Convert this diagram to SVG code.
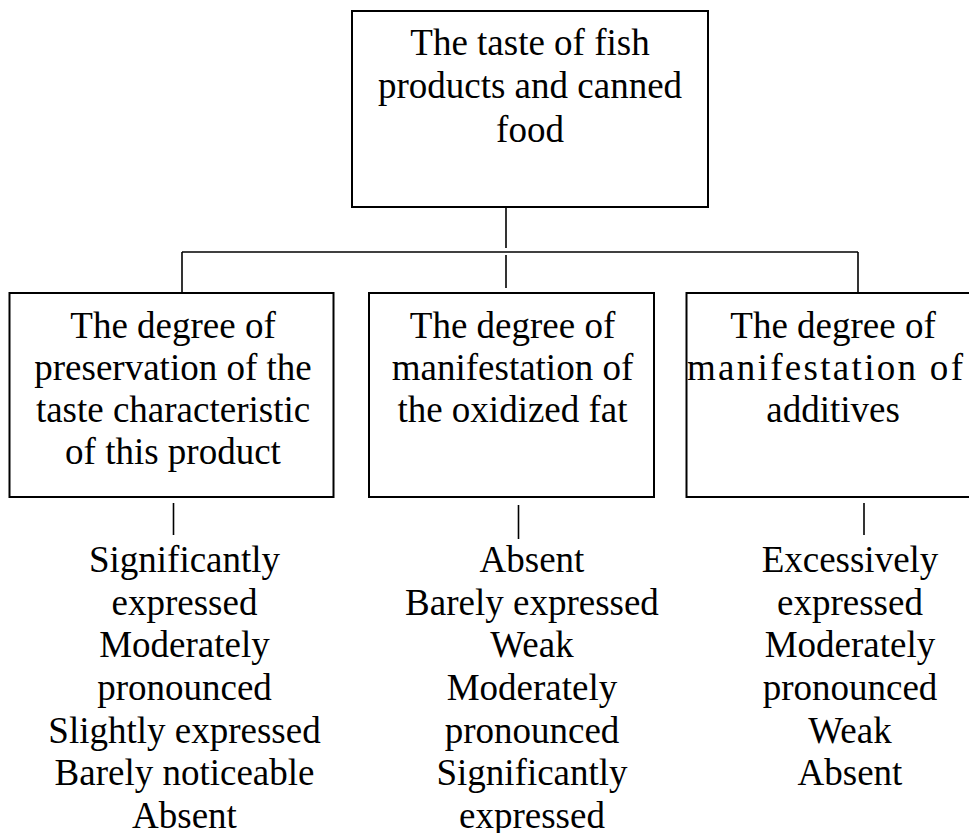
<svg xmlns="http://www.w3.org/2000/svg" width="969" height="833" viewBox="0 0 969 833">
  <style>
    .box { fill: #ffffff; stroke: #000000; stroke-width: 2; }
    .link { stroke: #000000; stroke-width: 1.6; fill: none; }
    text { font-family: "Liberation Serif", "Times New Roman", serif; font-size: 37px; fill: #000000; text-anchor: middle; }
  </style>
  <rect width="969" height="833" fill="#ffffff"/>

  <!-- tree connectors -->
  <g id="connectors">
    <line class="link" x1="506" y1="207" x2="506" y2="248"/>
    <line class="link" x1="182" y1="252" x2="858" y2="252"/>
    <line class="link" x1="506" y1="255" x2="506" y2="288"/>
    <line class="link" x1="182" y1="252" x2="182" y2="293"/>
    <line class="link" x1="858" y1="252" x2="858" y2="293"/>
    <line class="link" x1="173.5" y1="503" x2="173.5" y2="535"/>
    <line class="link" x1="518.5" y1="505" x2="518.5" y2="539"/>
    <line class="link" x1="864" y1="503" x2="864" y2="535"/>
  </g>

  <!-- root -->
  <g id="root">
    <rect class="box" x="352" y="11" width="356" height="196"/>
    <text x="530" y="55">The taste of fish</text>
    <text x="530" y="98">products and canned</text>
    <text x="530" y="142">food</text>
  </g>

  <!-- criterion boxes -->
  <g id="preservation">
    <rect class="box" x="9.5" y="293" width="324" height="204"/>
    <text x="173" y="338">The degree of</text>
    <text x="173" y="380">preservation of the</text>
    <text x="173" y="422">taste characteristic</text>
    <text x="173" y="464">of this product</text>
  </g>

  <g id="oxidized-fat">
    <rect class="box" x="369" y="293" width="285" height="204"/>
    <text x="512.5" y="338">The degree of</text>
    <text x="512.5" y="380">manifestation of</text>
    <text x="512.5" y="422">the oxidized fat</text>
  </g>

  <g id="additives">
    <rect class="box" x="686.5" y="293" width="292" height="204"/>
    <text x="833" y="338">The degree of</text>
    <text x="687" y="380" style="text-anchor:start" textLength="276" lengthAdjust="spacing">manifestation of</text>
    <text x="833" y="422">additives</text>
  </g>

  <!-- grade lists -->
  <g id="preservation-grades">
    <text x="184.5" y="572">Significantly</text>
    <text x="184.5" y="614.7">expressed</text>
    <text x="184.5" y="657.3">Moderately</text>
    <text x="184.5" y="700">pronounced</text>
    <text x="184.5" y="742.7">Slightly expressed</text>
    <text x="184.5" y="785.3">Barely noticeable</text>
    <text x="184.5" y="828">Absent</text>
  </g>

  <g id="oxidized-fat-grades">
    <text x="532" y="572">Absent</text>
    <text x="532" y="614.7">Barely expressed</text>
    <text x="532" y="657.3">Weak</text>
    <text x="532" y="700">Moderately</text>
    <text x="532" y="742.7">pronounced</text>
    <text x="532" y="785.3">Significantly</text>
    <text x="532" y="828">expressed</text>
  </g>

  <g id="additives-grades">
    <text x="850" y="572">Excessively</text>
    <text x="850" y="614.7">expressed</text>
    <text x="850" y="657.3">Moderately</text>
    <text x="850" y="700">pronounced</text>
    <text x="850" y="742.7">Weak</text>
    <text x="850" y="785.3">Absent</text>
  </g>
</svg>
